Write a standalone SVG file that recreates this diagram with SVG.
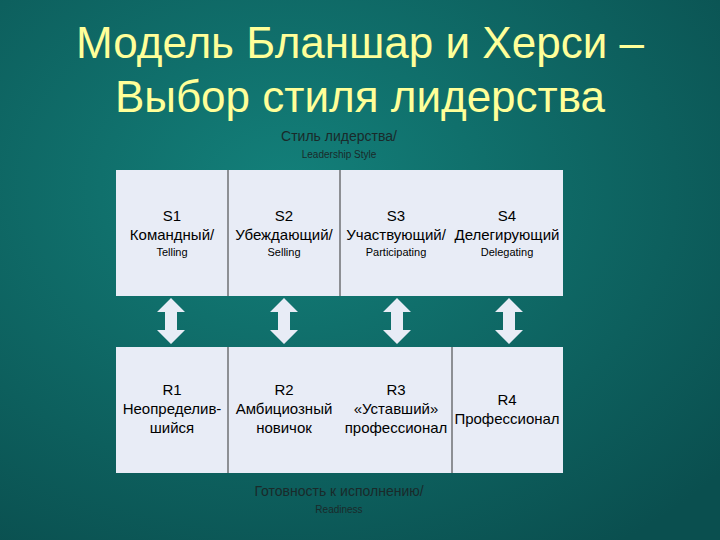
<svg xmlns="http://www.w3.org/2000/svg" width="720" height="540" viewBox="0 0 720 540">
<defs>
<radialGradient id="bg" cx="0.4" cy="0.35" r="0.8">
<stop offset="0" stop-color="#13807a"/><stop offset="1" stop-color="#0a4f4f"/>
</radialGradient>
<polygon id="arr" points="0,-23 14,-9 6,-9 6,9 14,9 0,23 -14,9 -6,9 -6,-9 -14,-9" fill="#e8ecf6"/>
</defs>
<style>
text{font-family:"Liberation Sans",Arial,sans-serif;text-anchor:middle}
.t{fill:#ffff99;font-size:44px}
.b{fill:#000;font-size:15px}
.s{fill:#000;font-size:11px}
.h{fill:#1a2a2a;font-size:14px}
.hs{fill:#1a2a2a;font-size:10px}
rect{fill:#e8ecf6}
.d{stroke:#333;stroke-width:1}
</style>
<rect width="720" height="540" fill="url(#bg)" style="fill:url(#bg)"/>
<text class="t" x="360" y="58">Модель Бланшар и Херси –</text>
<text class="t" x="360" y="112">Выбор стиля лидерства</text>
<text class="h" x="339" y="141">Стиль лидерства/</text>
<text class="hs" x="339" y="158">Leadership Style</text>
<g id="top">
<rect x="116" y="170" width="447" height="126"/>
<line class="d" x1="228" y1="170" x2="228" y2="296"/>
<line class="d" x1="340" y1="170" x2="340" y2="296"/>
</g>
<g id="S1"><text class="b" x="172" y="221">S1</text><text class="b" x="172" y="240">Командный/</text><text class="s" x="172" y="256">Telling</text></g>
<g id="S2"><text class="b" x="284" y="221">S2</text><text class="b" x="284" y="240">Убеждающий/</text><text class="s" x="284" y="256">Selling</text></g>
<g id="S3"><text class="b" x="396" y="221">S3</text><text class="b" x="396" y="240">Участвующий/</text><text class="s" x="396" y="256">Participating</text></g>
<g id="S4"><text class="b" x="507" y="221">S4</text><text class="b" x="507" y="240">Делегирующий</text><text class="s" x="507" y="256">Delegating</text></g>
<g id="connectors">
<use href="#arr" x="171" y="321"/>
<use href="#arr" x="284" y="321"/>
<use href="#arr" x="397" y="321"/>
<use href="#arr" x="509" y="321"/>
</g>
<g id="bottom">
<rect x="116" y="347" width="447" height="126"/>
<line class="d" x1="228" y1="347" x2="228" y2="473"/>
<line class="d" x1="452" y1="347" x2="452" y2="473"/>
</g>
<g id="R1"><text class="b" x="172" y="395">R1</text><text class="b" x="172" y="414">Неопределив-</text><text class="b" x="172" y="433">шийся</text></g>
<g id="R2"><text class="b" x="284" y="395">R2</text><text class="b" x="284" y="414">Амбициозный</text><text class="b" x="284" y="433">новичок</text></g>
<g id="R3"><text class="b" x="396" y="395">R3</text><text class="b" x="396" y="414">«Уставший»</text><text class="b" x="396" y="433">профессионал</text></g>
<g id="R4"><text class="b" x="507" y="405">R4</text><text class="b" x="507" y="424">Профессионал</text></g>
<text class="h" x="339" y="496">Готовность к исполнению/</text>
<text class="hs" x="339" y="513">Readiness</text>
</svg>
